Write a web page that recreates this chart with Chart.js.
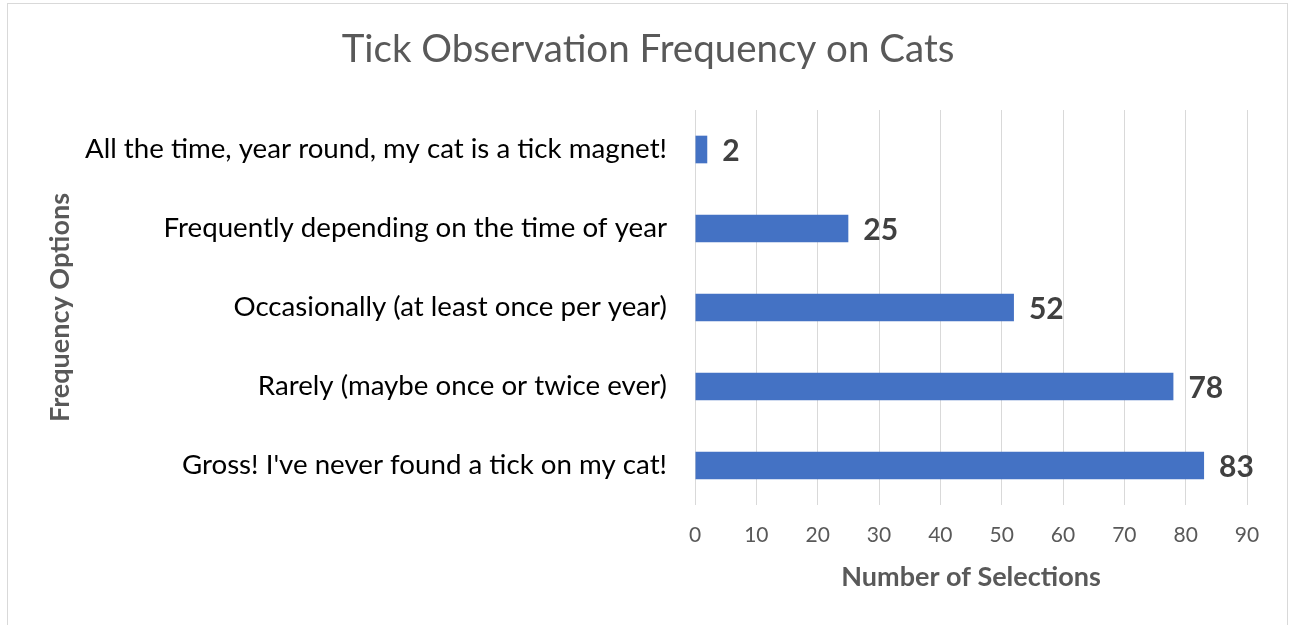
<!DOCTYPE html>
<html>
<head>
<meta charset="utf-8">
<script src="https://cdn.jsdelivr.net/npm/chart.js@4.4.1/dist/chart.umd.min.js"></script>
<style>
  html, body { margin: 0; padding: 0; background: #fff; }
  #wrap { position: relative; width: 1289px; height: 625px; }
</style>
</head>
<body>
<div id="wrap"><canvas id="chart" width="1289" height="625"></canvas></div>
<script>
const chartTitle = 'Tick Observation Frequency on Cats';
const categories = [
    'All the time, year round, my cat is a tick magnet!',
    'Frequently depending on the time of year',
    'Occasionally (at least once per year)',
    'Rarely (maybe once or twice ever)',
    "Gross! I've never found a tick on my cat!"
];
const selections = [2, 25, 52, 78, 83];
const xTicks = [0, 10, 20, 30, 40, 50, 60, 70, 80, 90];

const FONT = 'Lato, "Open Sans", sans-serif';

// outer frame + title centred on the whole frame (not just the layout box)
const framePlugin = {
    id: 'frame',
    beforeDraw(chart) {
        const ctx = chart.ctx;
        ctx.save();
        ctx.fillStyle = '#fff';
        ctx.fillRect(0, 0, chart.width, chart.height);
        ctx.strokeStyle = '#d9d9d9';
        ctx.lineWidth = 1;
        ctx.strokeRect(7.5, 3.5, 1280, 660);
        ctx.font = '38.5px ' + FONT;
        ctx.fillStyle = '#595959';
        ctx.textAlign = 'center';
        ctx.textBaseline = 'middle';
        ctx.fillText(chartTitle, 648, 50);
        ctx.restore();
    }
};

// value labels at the end of each bar
const valueLabels = {
    id: 'valueLabels',
    afterDatasetsDraw(chart) {
        const ctx = chart.ctx;
        const meta = chart.getDatasetMeta(0);
        ctx.save();
        ctx.font = 'bold 30px ' + FONT;
        ctx.fillStyle = '#404040';
        ctx.textAlign = 'left';
        ctx.textBaseline = 'middle';
        meta.data.forEach((bar, i) => {
            ctx.fillText(String(selections[i]), bar.x + 15, bar.y + 2);
        });
        ctx.restore();
    }
};

const ctx = document.getElementById('chart').getContext('2d');
new Chart(ctx, {
    type: 'bar',
    data: {
        labels: categories,
        datasets: [{
            data: selections,
            backgroundColor: '#4472C4',
            barPercentage: 0.35,
            categoryPercentage: 1
        }]
    },
    options: {
        indexAxis: 'y',
        responsive: false,
        animation: false,
        layout: { padding: { left: 0, right: 42, top: 110, bottom: 0 } },
        plugins: {
            legend: { display: false },
            tooltip: { enabled: false },
            title: { display: false }
        },
        scales: {
            x: {
                min: 0,
                max: 90,
                afterBuildTicks(scale) {
                    scale.ticks = xTicks.map(v => ({ value: v }));
                },
                afterFit(scale) { scale.height = 120; },
                grid: { color: '#d9d9d9', drawTicks: false },
                border: { display: false },
                ticks: {
                    color: '#595959',
                    font: { family: FONT, size: 21 },
                    padding: 18
                },
                title: {
                    display: true,
                    text: 'Number of Selections',
                    color: '#595959',
                    font: { family: FONT, size: 27, weight: 'bold' },
                    padding: { top: 0, bottom: 32 }
                }
            },
            y: {
                afterFit(scale) { scale.width = 695; },
                grid: { display: false, drawTicks: false },
                border: { display: false },
                ticks: {
                    color: '#000',
                    font: { family: FONT, size: 27.7 },
                    padding: 28
                },
                title: {
                    display: true,
                    text: 'Frequency Options',
                    color: '#595959',
                    font: { family: FONT, size: 27, weight: 'bold' },
                    padding: { top: 44, bottom: 0 }
                }
            }
        }
    },
    plugins: [framePlugin, valueLabels]
});
</script>
</body>
</html>
